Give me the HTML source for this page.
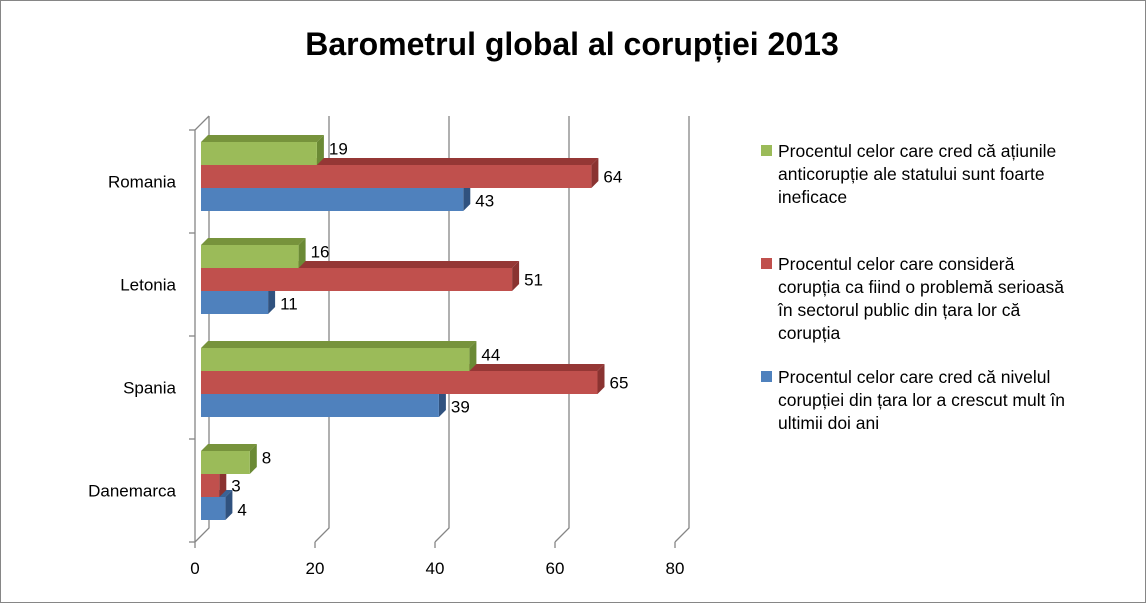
<!DOCTYPE html>
<html><head><meta charset="utf-8"><style>
body{margin:0;background:#fff}
svg{display:block;font-family:"Liberation Sans",sans-serif}
</style></head><body>
<svg id="chart" width="1146" height="603" viewBox="0 0 1146 603" xmlns="http://www.w3.org/2000/svg">
<rect x="0.5" y="0.5" width="1145" height="602" fill="#fff" stroke="#868686"/>
<text x="572" y="55" text-anchor="middle" font-size="32" font-weight="bold" fill="#000">Barometrul global al corupției 2013</text>
<g id="grid"></g>
<g id="bars"></g>
<g id="labels" font-size="17" fill="#000"></g>
<g font-size="17.5" fill="#000">
<g>
<rect x="761" y="145" width="11" height="11" fill="#9bbb59"/>
<text x="778" y="157">Procentul celor care cred că ațiunile</text>
<text x="778" y="180">anticorupție ale statului sunt foarte</text>
<text x="778" y="203">ineficace</text></g>
<g>
<rect x="761" y="258" width="11" height="11" fill="#c0504d"/>
<text x="778" y="270">Procentul celor care consideră</text>
<text x="778" y="293">corupția ca fiind o problemă serioasă</text>
<text x="778" y="316">în sectorul public din țara lor că</text>
<text x="778" y="339">corupția</text></g>
<g>
<rect x="761" y="371" width="11" height="11" fill="#4f81bd"/>
<text x="778" y="383">Procentul celor care cred că nivelul</text>
<text x="778" y="406">corupției din țara lor a crescut mult în</text>
<text x="778" y="429">ultimii doi ani</text></g>
</g>
</svg>
<script>
const categories=["Romania","Letonia","Spania","Danemarca"];
const greenValues=[19,16,44,8];
const redValues=[64,51,65,3];
const blueValues=[43,11,39,4];
const xTicks=[0,20,40,60,80];
const NS="http://www.w3.org/2000/svg";
const X0=195,XS=6,BY=542,TOPY=130,DX=14,DY=14,BAND=103;
const barX0=201,barS=6.1,BH=23,D=7;
function fx(v){return X0+v*XS;}
function bx(v){return barX0+v*barS;}
function mk(tag,attrs,parent){const e=document.createElementNS(NS,tag);for(const k in attrs)e.setAttribute(k,attrs[k]);parent.appendChild(e);return e;}
const grid=document.getElementById('grid'),bars=document.getElementById('bars'),labels=document.getElementById('labels');
const gs={stroke:"#868686","stroke-width":"1.3",fill:"none"};
let p=mk('path',Object.assign({d:`M${X0} ${TOPY} L${X0} ${BY} M${X0} ${TOPY} L${X0+DX} ${TOPY-DY}`},gs),grid);


xTicks.forEach(t=>{
  const x=fx(t);
  const l=mk('path',Object.assign({d:`M${x} ${BY} L${x+DX} ${BY-DY} L${x+DX} ${TOPY-DY} M${x} ${BY} L${x} ${BY+6}`},gs),grid);
  
  
  const tx=mk('text',{x:x,y:BY+32,"text-anchor":"middle"},labels);tx.textContent=t;
  
  
});
for(let i=0;i<=categories.length;i++){
  const y=TOPY+i*(BY-TOPY)/categories.length;
  const t=mk('path',Object.assign({d:`M${X0-6} ${y} L${X0} ${y}`},gs),grid);
  
  
}
const series=[{vals:greenValues,f:"#9bbb59",top:"#77933c",side:"#6b8a35",name:"green",lo:-5},
{vals:redValues,f:"#c0504d",top:"#953735",side:"#8a3331",name:"red",lo:0},
{vals:blueValues,f:"#4f81bd",top:"#3a6396",side:"#30527f",name:"blue",lo:1}];
categories.forEach((c,i)=>{
  const bandTop=TOPY+i*BAND;
  const ly=mk('text',{x:176,y:bandTop+BAND/2+6,"text-anchor":"end"},labels);ly.textContent=c;
  
  
  for(let j=series.length-1;j>=0;j--){
    const s=series[j];
    const v=s.vals[i],y=bandTop+12+j*BH,x1=bx(v);
    const g=mk('g',{},bars);
    
    
    mk('polygon',{points:`${barX0} ${y} ${barX0+D} ${y-D} ${x1+D} ${y-D} ${x1} ${y}`,fill:s.top},g);
    mk('polygon',{points:`${x1} ${y} ${x1+D} ${y-D} ${x1+D} ${y+BH-D} ${x1} ${y+BH}`,fill:s.side},g);
    mk('rect',{x:barX0,y:y,width:x1-barX0,height:BH,fill:s.f},g);
    const t=mk('text',{x:x1+D+5,y:y+BH/2+6+s.lo},labels);t.textContent=v;
    
    
  }
});
</script>
</body></html>
